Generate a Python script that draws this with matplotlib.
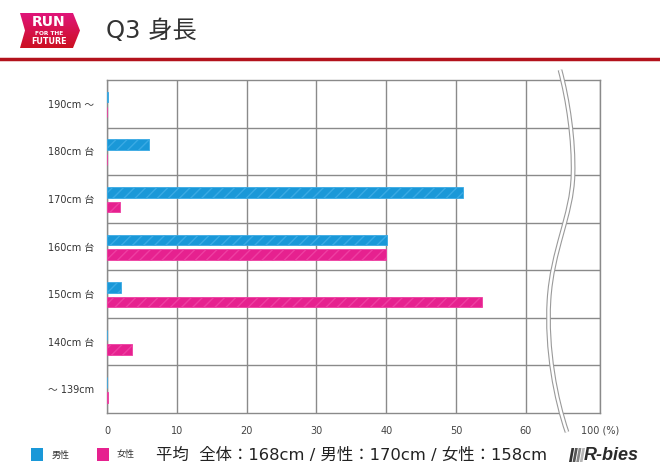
import matplotlib.pyplot as plt
import numpy as np
from matplotlib.path import Path
from matplotlib.patches import PathPatch, Polygon
from matplotlib.colors import LinearSegmentedColormap

plt.rcParams['font.family'] = ['DejaVu Sans', 'Noto Sans CJK JP']

categories = ['190cm ～', '180cm 台', '170cm 台', '160cm 台', '150cm 台', '140cm 台', '～ 139cm']
male = [0.2, 6.0, 51.0, 40.1, 2.0, 0.0, 0.0]
female = [0.0, 0.0, 1.9, 40.0, 53.7, 3.6, 0.2]
xticks = [0, 10, 20, 30, 40, 50, 60]
xmax = 70.6  # right edge stands for 100 (%)

W, H = 660, 475
fig = plt.figure(figsize=(W / 100, H / 100), dpi=100)


def px(x, y):
    # pixel coords (y down) -> figure fraction
    return (x / W, 1 - y / H)


ax = fig.add_axes([107 / W, 1 - 413 / H, (600 - 107) / W, (413 - 80) / H])
y = np.arange(len(categories))

blue, blue_l = '#1a98d8', '#3aaae4'
pink, pink_l = '#e6218f', '#ee3fa2'
plt.rcParams['hatch.linewidth'] = 1.0
ax.barh(y - 0.14, male, height=0.22, color=blue, edgecolor=blue_l, hatch='///', linewidth=0.6, zorder=3)
ax.barh(y + 0.17, female, height=0.22, color=pink, edgecolor=pink_l, hatch='///', linewidth=0.6, zorder=3)

ax.set_xlim(0, xmax)
ax.set_ylim(len(categories) - 0.5, -0.5)
ax.set_xticks(xticks + [xmax])
ax.set_xticklabels([str(t) for t in xticks] + ['100 (%)'])
ax.set_yticks(y)
ax.set_yticklabels(categories)
ax.set_yticks(np.arange(0.5, len(categories) - 1), minor=True)
ax.tick_params(axis='both', which='both', length=0)
ax.tick_params(axis='x', pad=9, labelsize=7, labelcolor='#444444')
ax.tick_params(axis='y', pad=9, labelsize=7, labelcolor='#333333')
ax.grid(axis='x', which='major', color='#8a8a8a', linewidth=1.0, zorder=1)
ax.grid(axis='y', which='minor', color='#8a8a8a', linewidth=1.0, zorder=1)
for s in ax.spines.values():
    s.set_color('#8a8a8a')
    s.set_linewidth(1.0)

# wavy break line
verts = [px(560, 70),
         px(568, 100), px(574, 140), px(573, 175),
         px(572, 215), px(552, 250), px(549, 300),
         px(546, 350), px(556, 400), px(567, 432)]
codes = [Path.MOVETO] + [Path.CURVE4] * 9
brk = Path(verts, codes)
fig.patches.append(PathPatch(brk, transform=fig.transFigure, fill=False, edgecolor='#9a9a9a', linewidth=3.4, zorder=5))
fig.patches.append(PathPatch(brk, transform=fig.transFigure, fill=False, edgecolor='white', linewidth=1.8, zorder=6))

# header logo
logo = [px(20, 13), px(73, 13), px(80, 30.5), px(73, 48), px(20, 48), px(25, 30.5)]
grad = np.linspace(0, 1, 100).reshape(-1, 1)
cmap = LinearSegmentedColormap.from_list('logo', ['#cc1020', '#e0157a'])
lax = fig.add_axes([0, 0, 1, 1], zorder=-1)
lax.set_axis_off()
im = lax.imshow(grad, cmap=cmap, aspect='auto', origin='lower',
                extent=[20 / W, 80 / W, 1 - 48 / H, 1 - 13 / H])
lax.set_xlim(0, 1)
lax.set_ylim(0, 1)
im.set_clip_path(Polygon(logo, closed=True, transform=lax.transAxes))
fig.text(*px(49, 22), 'RUN', color='white', fontsize=10, fontweight='bold', ha='center', va='center')
fig.text(*px(49, 33.5), 'FOR THE', color='white', fontsize=4.2, fontweight='bold', ha='center', va='center')
fig.text(*px(49, 41), 'FUTURE', color='white', fontsize=5.8, fontweight='bold', ha='center', va='center')

fig.text(*px(106, 31), 'Q3 身長', color='#333333', fontsize=17.5, ha='left', va='center')
fig.add_artist(plt.Line2D([0, 1], [1 - 59 / H, 1 - 59 / H], transform=fig.transFigure, color='#b3121c', linewidth=2.5))

# legend and averages
fig.patches.append(Polygon([px(31, 448), px(43, 448), px(43, 461), px(31, 461)], transform=fig.transFigure, facecolor=blue))
fig.text(*px(52, 455), '男性', fontsize=6.5, color='#333333', va='center')
fig.patches.append(Polygon([px(97, 448), px(109, 448), px(109, 461), px(97, 461)], transform=fig.transFigure, facecolor=pink))
fig.text(*px(117, 455), '女性', fontsize=6.5, color='#333333', va='center')
fig.text(*px(156, 455), '平均  全体：168cm / 男性：170cm / 女性：158cm', fontsize=11.8, color='#222222', va='center')

# R-bies mark
for i, c in enumerate(['#333333', '#555555', '#888888', '#b5b5b5']):
    x0 = 569 + i * 3.6
    fig.patches.append(Polygon([px(x0 + 2.5, 448), px(x0 + 5.2, 448), px(x0 + 2.7, 462), px(x0, 462)],
                               transform=fig.transFigure, facecolor=c, edgecolor='none'))
fig.text(*px(584, 455), 'R-bies', fontsize=13, fontweight='bold', style='italic', color='#2a2a2a',
         va='center', family='Liberation Sans')

fig.savefig('out.png', dpi=100)
